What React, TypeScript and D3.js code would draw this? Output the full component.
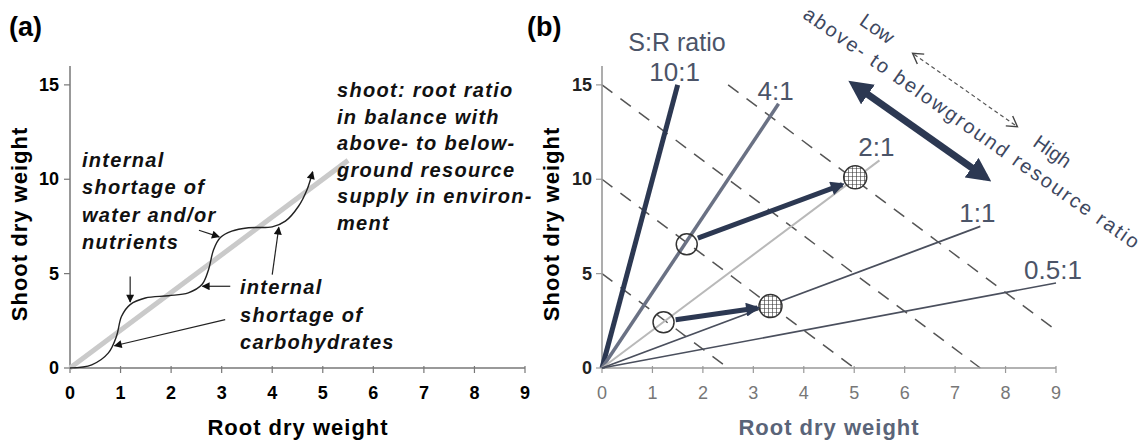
import React from "react";
import * as d3 from "d3";

const W = 1147;
const H = 444;

// shared axis ticks
const tickRoot = [0, 1, 2, 3, 4, 5, 6, 7, 8, 9];
const tickShoot = [0, 5, 10, 15];

// panel (a): measured growth curve (root, shoot)
const curveRoot = [0, 0.43, 0.76, 0.92, 1.02, 1.19, 1.49, 1.95, 2.34, 2.61, 2.74, 2.84, 2.97, 3.2, 3.53, 4.0, 4.26, 4.52, 4.69, 4.8];
const curveShoot = [0, 0.17, 0.8, 1.68, 2.74, 3.36, 3.71, 3.83, 3.98, 4.42, 5.21, 6.27, 6.9, 7.25, 7.43, 7.48, 7.78, 8.57, 9.46, 10.4];
// balanced shoot:root line
const balanceRoot = [0, 5.5];
const balanceShoot = [0, 11];
// annotation arrows: tail root, tail shoot, head root, head shoot
const noteArrowX1 = [1.19, 2.55, 3.17, 3.07, 4.0];
const noteArrowY1 = [4.85, 7.3, 4.33, 2.56, 4.95];
const noteArrowX2 = [1.19, 2.95, 2.62, 0.88, 4.13];
const noteArrowY2 = [3.5, 6.95, 4.33, 1.18, 7.45];

const noteWater = ["internal", "shortage of", "water and/or", "nutrients"];
const noteCarb = ["internal", "shortage of", "carbohydrates"];
const noteBalance = ["shoot: root ratio", "in balance with", "above- to below-", "ground resource", "supply in environ-", "ment"];

// panel (b): S:R ratio lines
const ratioLabels = ["10:1", "4:1", "2:1", "1:1", "0.5:1"];
const ratioValues = [10, 4, 2, 1, 0.5];
const ratioEndRoot = [1.5, 3.5, 5.5, 7.5, 9];
const ratioColors = ["#2c3852", "#6a7184", "#b9b9b9", "#4a4f5d", "#4a4f5d"];
const ratioWidths = [5, 3.5, 2, 1.8, 1.6];
// iso lines shoot = c - 2*root
const isoIntercepts = [5, 10, 15, 20];
// plants: open = before, hatched = after
const openRoot = [1.68, 1.22];
const openShoot = [6.55, 2.42];
const fillRoot = [5.02, 3.34];
const fillShoot = [10.1, 3.28];
const shiftX1 = [1.9, 1.46];
const shiftY1 = [6.88, 2.56];
const shiftX2 = [4.76, 3.08];
const shiftY2 = [9.72, 3.18];
// resource ratio double arrow
const bigArrowRoot = [5.0, 7.6];
const bigArrowShoot = [15.0, 10.1];

const font = "'Liberation Sans', Arial, Helvetica, sans-serif";

const xa = d3.scaleLinear().domain([0, 9]).range([70, 525]);
const xb = d3.scaleLinear().domain([0, 9]).range([602, 1056]);
const y = d3.scaleLinear().domain([0, 16]).range([368, 66]);

const App = () => {
  const curveLine = d3
    .line<number>()
    .x((d) => xa(d))
    .y((_, i) => y(curveShoot[i]))
    .curve(d3.curveCatmullRom.alpha(0.5));

  const isoSegs = isoIntercepts.map((c) => {
    const x0 = Math.max(0, (c - 15) / 2);
    const x1 = Math.min(9, c / 2);
    return [x0, c - 2 * x0, x1, c - 2 * x1];
  });

  return (
    <svg width={W} height={H} style={{ display: "block", position: "absolute", left: 0, top: 0, background: "#fff" }} fontFamily={font}>
      <defs>
        <marker id="headA" viewBox="0 0 10 10" refX="9" refY="5" markerWidth="9" markerHeight="8" markerUnits="userSpaceOnUse" orient="auto">
          <path d="M0,0 L10,5 L0,10 z" fill="#111" />
        </marker>
        <marker id="headB" viewBox="0 0 10 10" refX="8" refY="5" markerWidth="16" markerHeight="14" markerUnits="userSpaceOnUse" orient="auto">
          <path d="M0,0 L10,5 L0,10 z" fill="#2c3852" />
        </marker>
        <marker id="headBig" viewBox="0 0 10 10" refX="7" refY="5" markerWidth="24" markerHeight="24" markerUnits="userSpaceOnUse" orient="auto-start-reverse">
          <path d="M0,0 L10,5 L0,10 z" fill="#2c3852" />
        </marker>
        <pattern id="hatch" width="4" height="4" patternUnits="userSpaceOnUse">
          <rect width="4" height="4" fill="#fff" />
          <path d="M0,0 H4 M0,0 V4" stroke="#333" strokeWidth="1.2" />
        </pattern>
      </defs>

      {/* panel letters */}
      <text x={9} y={36} fontSize={27} fontWeight="bold">(a)</text>
      <text x={527} y={36} fontSize={27} fontWeight="bold">(b)</text>

      {/* ---------- panel (a) ---------- */}
      <g>
        <line x1={xa(0)} x2={xa(0)} y1={y(0)} y2={y(16)} stroke="#777" strokeWidth={1.5} />
        <line x1={xa(0)} x2={xa(9)} y1={y(0)} y2={y(0)} stroke="#777" strokeWidth={1.5} />
        {tickShoot.map((t) => (
          <g key={t}>
            <line x1={xa(0) - 6} x2={xa(0)} y1={y(t)} y2={y(t)} stroke="#777" strokeWidth={1.2} />
            <text x={xa(0) - 11} y={y(t) + 6} textAnchor="end" fontSize={18} fontWeight="bold">{t}</text>
          </g>
        ))}
        {tickRoot.map((t) => (
          <g key={t}>
            <line x1={xa(t)} x2={xa(t)} y1={y(0) - 2} y2={y(0) + 5} stroke="#777" strokeWidth={1.2} />
            <text x={xa(t)} y={y(0) + 31} textAnchor="middle" fontSize={18} fontWeight="bold">{t}</text>
          </g>
        ))}
        <text x={298} y={435} textAnchor="middle" fontSize={22} fontWeight="bold" letterSpacing={1}>Root dry weight</text>
        <text transform={`translate(27,224) rotate(-90)`} textAnchor="middle" fontSize={22} fontWeight="bold" letterSpacing={1}>Shoot dry weight</text>

        <line x1={xa(balanceRoot[0])} y1={y(balanceShoot[0])} x2={xa(balanceRoot[1])} y2={y(balanceShoot[1])} stroke="#cacaca" strokeWidth={5} />
        <path d={curveLine(curveRoot) || ""} fill="none" stroke="#222" strokeWidth={1.4} markerEnd="url(#headA)" />
        {noteArrowX1.map((v, i) => (
          <line key={i} x1={xa(v)} y1={y(noteArrowY1[i])} x2={xa(noteArrowX2[i])} y2={y(noteArrowY2[i])} stroke="#222" strokeWidth={1.2} markerEnd="url(#headA)" />
        ))}

        <g fontSize={20} fontWeight="bold" fontStyle="italic" fill="#111" letterSpacing={1.3}>
          {noteWater.map((s, i) => (
            <text key={s} x={82} y={167 + i * 27.3}>{s}</text>
          ))}
          {noteCarb.map((s, i) => (
            <text key={s + i} x={240} y={294 + i * 27.5}>{s}</text>
          ))}
          {noteBalance.map((s, i) => (
            <text key={s} x={337} y={97 + i * 26.5}>{s}</text>
          ))}
        </g>
      </g>

      {/* ---------- panel (b) ---------- */}
      <g>
        {isoSegs.map((s, i) => (
          <line key={i} x1={xb(s[0])} y1={y(s[1])} x2={xb(s[2])} y2={y(s[3])} stroke="#555" strokeWidth={1.5} strokeDasharray="13 10" />
        ))}
        <line x1={xb(0)} x2={xb(0)} y1={y(0)} y2={y(16)} stroke="#999" strokeWidth={1.6} />
        <line x1={xb(0)} x2={xb(9)} y1={y(0)} y2={y(0)} stroke="#999" strokeWidth={1.6} />
        {tickShoot.map((t) => (
          <g key={t}>
            <line x1={xb(0) - 6} x2={xb(0)} y1={y(t)} y2={y(t)} stroke="#999" strokeWidth={1.2} />
            <text x={xb(0) - 10} y={y(t) + 6} textAnchor="end" fontSize={18} fontWeight="bold" fill="#222">{t}</text>
          </g>
        ))}
        {tickRoot.map((t) => (
          <g key={t}>
            <line x1={xb(t)} x2={xb(t)} y1={y(0) - 2} y2={y(0) + 5} stroke="#999" strokeWidth={1.2} />
            <text x={xb(t)} y={y(0) + 31} textAnchor="middle" fontSize={18} fill="#777">{t}</text>
          </g>
        ))}
        <text x={829} y={435} textAnchor="middle" fontSize={22} fontWeight="bold" fill="#5a6478" letterSpacing={1}>Root dry weight</text>
        <text transform={`translate(559,224) rotate(-90)`} textAnchor="middle" fontSize={22} fontWeight="bold" letterSpacing={1}>Shoot dry weight</text>

        {ratioValues.map((r, i) => (
          <g key={r}>
            <line x1={xb(0)} y1={y(0)} x2={xb(ratioEndRoot[i])} y2={y(ratioEndRoot[i] * r)} stroke={ratioColors[i]} strokeWidth={ratioWidths[i]} />
            <text x={xb(ratioEndRoot[i]) - 3} y={y(ratioEndRoot[i] * r) - 4} textAnchor="middle" fontSize={26} fill="#4b5468">{ratioLabels[i]}</text>
          </g>
        ))}
        <text x={677} y={51} textAnchor="middle" fontSize={25} fill="#4b5468">S:R ratio</text>

        {openRoot.map((v, i) => (
          <circle key={i} cx={xb(v)} cy={y(openShoot[i])} r={10.5} fill="none" stroke="#333" strokeWidth={1.5} />
        ))}
        {fillRoot.map((v, i) => (
          <circle key={i} cx={xb(v)} cy={y(fillShoot[i])} r={11.5} fill="url(#hatch)" stroke="#333" strokeWidth={1.5} />
        ))}
        {shiftX1.map((v, i) => (
          <line key={i} x1={xb(v)} y1={y(shiftY1[i])} x2={xb(shiftX2[i])} y2={y(shiftY2[i])} stroke="#2c3852" strokeWidth={5} markerEnd="url(#headB)" />
        ))}

        <line x1={xb(bigArrowRoot[0])} y1={y(bigArrowShoot[0])} x2={xb(bigArrowRoot[1])} y2={y(bigArrowShoot[1])} stroke="#2c3852" strokeWidth={7} markerStart="url(#headBig)" markerEnd="url(#headBig)" />

        <g transform="translate(965,90) rotate(35)" fill="#3d4760">
          <text x={-107} y={7} textAnchor="middle" fontSize={20}>Low</text>
          <text x={107} y={7} textAnchor="middle" fontSize={20}>High</text>
          <line x1={-62} x2={62} y1={0} y2={0} stroke="#555" strokeWidth={1.2} strokeDasharray="4 3" />
          <path d="M-54,-6 L-64,0 L-54,6 M54,-6 L64,0 L54,6" fill="none" stroke="#444" strokeWidth={1.4} />
          <text x={27} y={34} textAnchor="middle" fontSize={20} textLength={405} lengthAdjust="spacing">above- to belowground resource ratio</text>
        </g>
      </g>
    </svg>
  );
};

export default App;
